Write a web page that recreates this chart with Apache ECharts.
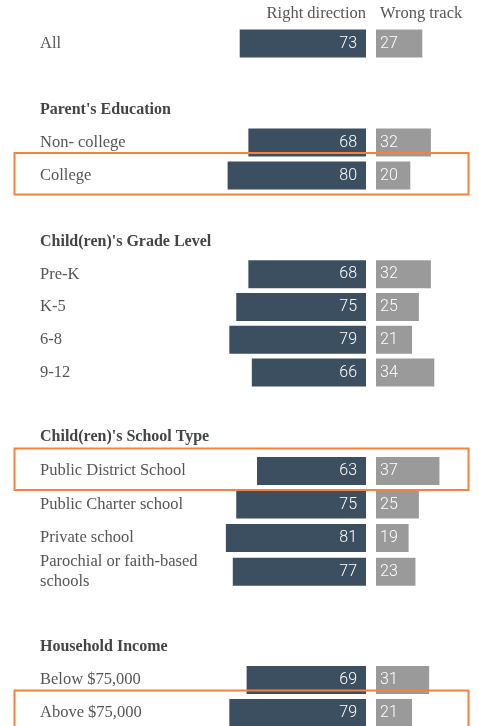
<!DOCTYPE html>
<html>
<head>
<meta charset="utf-8">
<script src="https://cdn.jsdelivr.net/npm/echarts@6/dist/echarts.min.js"></script>
<style>
html,body{margin:0;padding:0;background:#fff;}
#chart{width:479px;height:726px;}
</style>
</head>
<body>
<div id="chart"></div>
<script>
// ---- data ----
const columnNames = ["Right direction", "Wrong track"];
const sectionHeaders = ["", "Parent's Education", "Child(ren)'s Grade Level", "Child(ren)'s School Type", "Household Income"];

const allCats = ["All"];
const allRight = [73];
const allWrong = [27];

const eduCats = ["Non- college", "College"];
const eduRight = [68, 80];
const eduWrong = [32, 20];

const gradeCats = ["Pre-K", "K-5", "6-8", "9-12"];
const gradeRight = [68, 75, 79, 66];
const gradeWrong = [32, 25, 21, 34];

const schoolCats = ["Public District School", "Public Charter school", "Private school", "Parochial or faith-based\nschools"];
const schoolRight = [63, 75, 81, 77];
const schoolWrong = [37, 25, 19, 23];

const incomeCats = ["Below $75,000", "Above $75,000"];
const incomeRight = [69, 79];
const incomeWrong = [31, 21];

const highlighted = ["College", "Public District School", "Above $75,000"];

// ---- layout (style only) ----
const sections = [
  { cats: allCats, right: allRight, wrong: allWrong, top: 27, height: 33 },
  { cats: eduCats, right: eduRight, wrong: eduWrong, top: 93, height: 99 },
  { cats: gradeCats, right: gradeRight, wrong: gradeWrong, top: 225, height: 164 },
  { cats: schoolCats, right: schoolRight, wrong: schoolWrong, top: 420.5, height: 168 },
  { cats: incomeCats, right: incomeRight, wrong: incomeWrong, top: 630.5, height: 99 }
];

const SERIF = '"Liberation Serif", "DejaVu Serif", serif';
const NUMFONT = '"Roboto", sans-serif';
const DARK = '#3b4f60';
const GREY = '#9a9a9a';

const grids = [], xAxes = [], yAxes = [], series = [];
sections.forEach((s, i) => {
  const header = sectionHeaders[i];
  const cats = header ? [header].concat(s.cats) : s.cats.slice();
  const rightData = header ? ['-'].concat(s.right) : s.right.slice();
  const wrongData = header ? ['-'].concat(s.wrong) : s.wrong.slice();
  const gl = grids.length;
  grids.push({ left: 193, width: 173, top: s.top, height: s.height, containLabel: false, outerBoundsMode: 'none' });
  grids.push({ left: 376, width: 102.9, top: s.top, height: s.height, containLabel: false, outerBoundsMode: 'none' });
  xAxes.push({ type: 'value', gridIndex: gl, min: 0, max: 100, inverse: true, show: false });
  xAxes.push({ type: 'value', gridIndex: gl + 1, min: 0, max: 60, show: false });
  yAxes.push({
    type: 'category', gridIndex: gl, data: cats, inverse: true, position: 'left',
    axisLine: { show: false, onZero: false }, axisTick: { show: false }, splitLine: { show: false },
    axisLabel: {
      align: 'left', margin: 153, color: '#555', fontFamily: SERIF, fontSize: 16.5, lineHeight: 20,
      formatter: (v) => (v === header && header) ? '{h|' + v + '}' : v,
      rich: { h: { fontFamily: SERIF, fontSize: 16, fontWeight: 'bold', color: '#444' } }
    }
  });
  yAxes.push({
    type: 'category', gridIndex: gl + 1, data: cats, inverse: true, show: false,
    axisLine: { onZero: false }
  });
  series.push({
    type: 'bar', name: columnNames[0], xAxisIndex: gl, yAxisIndex: gl, data: rightData,
    barWidth: 28, itemStyle: { color: DARK }, silent: true,
    label: { show: true, position: 'insideRight', distance: 9, color: '#fff', fontFamily: NUMFONT, fontWeight: 300, fontSize: 16 }
  });
  series.push({
    type: 'bar', name: columnNames[1], xAxisIndex: gl + 1, yAxisIndex: gl + 1, data: wrongData,
    barWidth: 28, itemStyle: { color: GREY }, silent: true,
    label: { show: true, position: 'insideLeft', distance: 4, color: '#fff', fontFamily: NUMFONT, fontWeight: 300, fontSize: 16 }
  });
});

const chart = echarts.init(document.getElementById('chart'), null, { renderer: 'canvas' });
chart.setOption({
  animation: false,
  backgroundColor: '#fff',
  title: [
    { text: columnNames[0], right: 113, top: 5, padding: 0,
      textStyle: { fontFamily: SERIF, fontSize: 16.5, fontWeight: 'normal', color: '#555' } },
    { text: columnNames[1], left: 380, top: 5, padding: 0,
      textStyle: { fontFamily: SERIF, fontSize: 16.5, fontWeight: 'normal', color: '#555' } }
  ],
  grid: grids, xAxis: xAxes, yAxis: yAxes, series: series
});

// highlight boxes around selected rows
const boxes = [];
sections.forEach((s, i) => {
  s.cats.forEach((c) => {
    if (highlighted.indexOf(c) >= 0) {
      const y = chart.convertToPixel({ yAxisIndex: i * 2 }, c);
      boxes.push({
        type: 'rect', silent: true, z: 100,
        shape: { x: 14.5, y: y - 22.5, width: 454, height: 41.5 },
        style: { fill: 'none', stroke: '#f5823f', lineWidth: 2 }
      });
    }
  });
});
chart.setOption({ graphic: boxes });
</script>
</body>
</html>
